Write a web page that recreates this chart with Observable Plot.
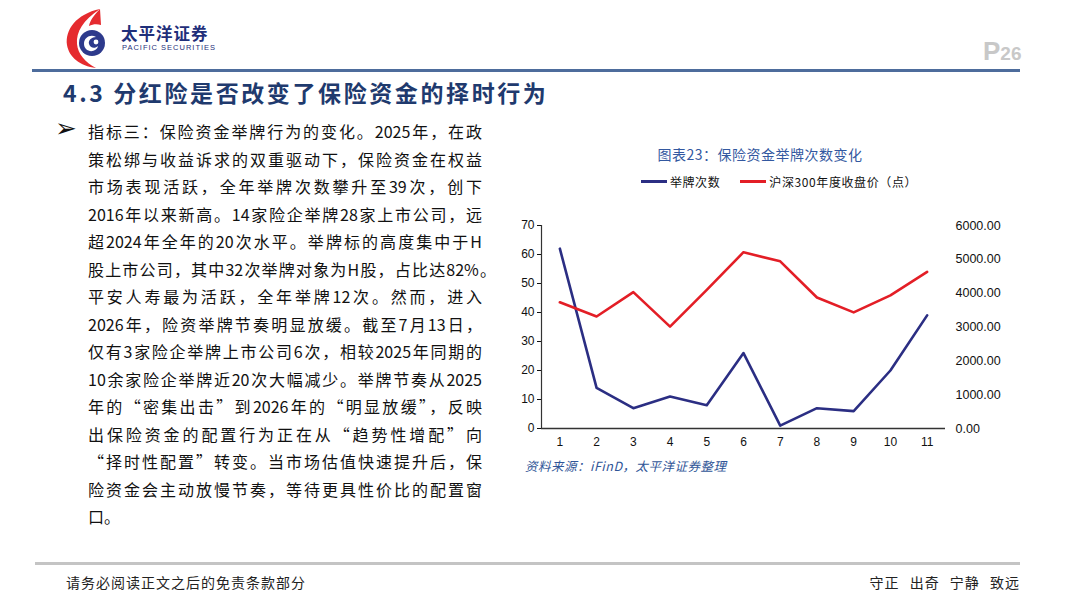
<!DOCTYPE html>
<html>
<head>
<meta charset="utf-8">
<script src="https://cdn.jsdelivr.net/npm/d3@7"></script>
<script src="https://cdn.jsdelivr.net/npm/@observablehq/plot@0.6"></script>
<style>
  html, body { margin:0; padding:0; background:#fff; }
  body { width:1080px; height:608px; position:relative; overflow:hidden; font-family:"Noto Sans CJK SC","Noto Sans",sans-serif; }
  .abs { position:absolute; }
  .line { position:absolute; left:88px; width:394px; font-size:16px; line-height:20px; color:#111; text-align:justify; text-align-last:justify; white-space:nowrap; }
  .line.last { text-align-last:left; }
  #chart svg { overflow:visible; }
</style>
</head>
<body>
<!-- Logo -->
<svg class="abs" style="left:62px;top:8px" width="60" height="62" viewBox="0 0 60 62">
  <path d="M38 1 C14 6 3 22 5 37 C7 49 18 58 34 60 C23 54 16 46 15 36 C14 24 21 12 38 1 Z" fill="#e52b2f"/>
  <path d="M38 1 C31 8 28 13 27 18 C31 16 35 16 39 17 Z" fill="#e52b2f"/>
  <circle cx="30" cy="35" r="13" fill="#2d3a8c"/>
  <path d="M22 36 C22 29 29 26 34 29 C30 29 26 32 27 36 C28 40 33 41 36 38 C35 43 28 45 24 41 C23 40 22 38 22 36 Z" fill="#fff"/>
  <circle cx="34" cy="34" r="2.4" fill="#fff"/>
</svg>
<div class="abs" style="left:121px;top:24px;font-size:16.5px;line-height:18px;font-weight:700;color:#1f2f7a;letter-spacing:1px">太平洋证券</div>
<div class="abs" style="left:122px;top:44px;font-size:7.5px;line-height:8px;color:#1f2f7a;font-family:'Liberation Sans',sans-serif;letter-spacing:1px">PACIFIC SECURITIES</div>
<div class="abs" style="left:983px;top:36px;font-family:'Liberation Sans Narrow','Liberation Sans',sans-serif;color:#c8c8c8;font-size:26px;font-weight:700">P<span style="font-size:19px">26</span></div>
<div class="abs" style="left:32px;top:69px;width:988px;height:3px;background:#4d6c9c"></div>
<div class="abs" style="left:63px;top:75px;font-size:23px;font-weight:700;color:#1f3a6e;letter-spacing:2.6px">4.3 分红险是否改变了保险资金的择时行为</div>

<!-- Body text -->
<div class="abs" style="left:55px;top:113px;font-size:26px;line-height:30px;color:#111;font-family:'DejaVu Sans',sans-serif">➢</div>
<div id="text"></div>

<!-- Chart -->
<div class="abs" style="left:510px;top:144px;width:500px;text-align:center;font-size:14px;color:#3358a0;letter-spacing:0.5px">图表23：保险资金举牌次数变化</div>
<div id="legend" class="abs" style="left:529px;top:173px;width:500px;display:flex;justify-content:center;align-items:center;font-size:12px;color:#111;letter-spacing:0.6px"></div>
<div id="chart" class="abs" style="left:505px;top:215px"></div>
<div class="abs" style="left:525px;top:456px;font-size:12.5px;font-style:italic;color:#2f5597;letter-spacing:0.5px">资料来源：iFinD，太平洋证券整理</div>

<!-- Footer -->
<div class="abs" style="left:35px;top:562px;width:985px;height:3px;background:#c4c4c4"></div>
<div class="abs" style="left:66px;top:572px;font-size:14px;color:#222;letter-spacing:1px">请务必阅读正文之后的免责条款部分</div>
<div class="abs" style="right:60px;top:572px;font-size:14px;color:#222;letter-spacing:1px;word-spacing:6px">守正 出奇 宁静 致远</div>

<script>
const categories = [1, 2, 3, 4, 5, 6, 7, 8, 9, 10, 11];
const jupaiCount = [62, 14, 7, 11, 8, 26, 1, 7, 6, 20, 39];
const hs300Close = [3731, 3311, 4031, 3011, 4097, 5211, 4940, 3872, 3431, 3935, 4630];
const leftTicks = [0, 10, 20, 30, 40, 50, 60, 70];
const rightTicks = [0, 1000, 2000, 3000, 4000, 5000, 6000];
const seriesNames = ["举牌次数", "沪深300年度收盘价（点）"];
const seriesColors = ["#2b2e83", "#e31e26"];

const bodyLines = [
  "指标三：保险资金举牌行为的变化。2025年，在政",
  "策松绑与收益诉求的双重驱动下，保险资金在权益",
  "市场表现活跃，全年举牌次数攀升至39次，创下",
  "2016年以来新高。14家险企举牌28家上市公司，远",
  "超2024年全年的20次水平。举牌标的高度集中于H",
  "股上市公司，其中32次举牌对象为H股，占比达82%。",
  "平安人寿最为活跃，全年举牌12次。然而，进入",
  "2026年，险资举牌节奏明显放缓。截至7月13日，",
  "仅有3家险企举牌上市公司6次，相较2025年同期的",
  "10余家险企举牌近20次大幅减少。举牌节奏从2025",
  "年的“密集出击”到2026年的“明显放缓”，反映",
  "出保险资金的配置行为正在从“趋势性增配”向",
  "“择时性配置”转变。当市场估值快速提升后，保",
  "险资金会主动放慢节奏，等待更具性价比的配置窗",
  "口。"
];

const textDiv = document.getElementById("text");
bodyLines.forEach((t, i) => {
  const d = document.createElement("div");
  d.className = "line" + (i === bodyLines.length - 1 ? " last" : "");
  d.style.top = (121 + i * 27.5) + "px";
  if (i === 5) d.style.width = "408px";
  d.textContent = t;
  textDiv.appendChild(d);
});

const legend = document.getElementById("legend");
seriesNames.forEach((n, i) => {
  const item = document.createElement("span");
  item.style.display = "inline-flex";
  item.style.alignItems = "center";
  item.style.margin = "0 10px";
  item.innerHTML = `<span style="display:inline-block;width:26px;height:3px;background:${seriesColors[i]};margin-right:3px"></span>${n}`;
  legend.appendChild(item);
});

const data = categories.map((c, i) => ({cat: c, jp: jupaiCount[i], hs: hs300Close[i]}));
const k = 70 / 6000;

const chart = Plot.plot({
  width: 505,
  height: 245,
  marginLeft: 36,
  marginRight: 65,
  marginTop: 10,
  marginBottom: 32,
  style: {fontFamily: "'Liberation Sans', Arial, sans-serif", fontSize: "12px", color: "#111", background: "transparent"},
  x: {domain: [0.5, 11.5]},
  y: {domain: [0, 70]},
  marks: [
    Plot.axisY({ticks: leftTicks, tickSize: 4, tickPadding: 3, fontSize: 12, label: null}),
    Plot.axisY({anchor: "right", ticks: rightTicks.map(v => v * k), tickSize: 0, tickPadding: 10, fontSize: 12.5,
      tickFormat: d => Math.round(d / k).toFixed(2), label: null}),
    Plot.axisX({ticks: categories, tickSize: 0, tickPadding: 9, fontSize: 12, tickFormat: d => String(d), label: null}),
    Plot.ruleX([0.5], {stroke: "#333", strokeWidth: 1.2}),
    Plot.ruleY([0], {stroke: "#333", strokeWidth: 1.4}),
    Plot.line(data, {x: "cat", y: "jp", stroke: seriesColors[0], strokeWidth: 2.6}),
    Plot.line(data, {x: "cat", y: d => d.hs * k, stroke: seriesColors[1], strokeWidth: 2.6})
  ]
});
document.getElementById("chart").appendChild(chart);
</script>
</body>
</html>
